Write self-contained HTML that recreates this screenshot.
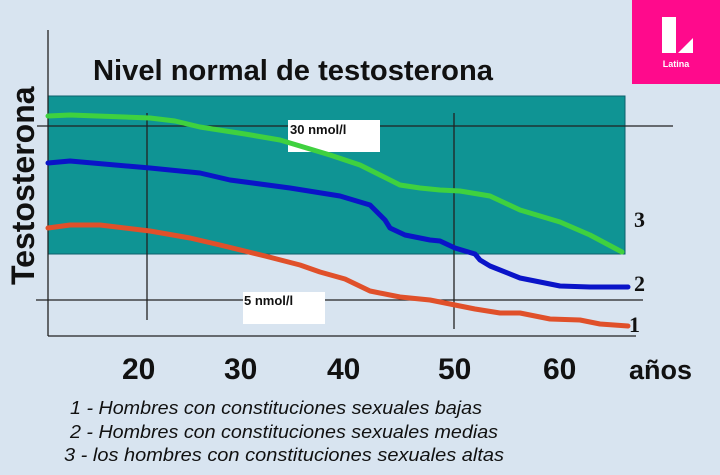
<!DOCTYPE html>
<html><head><meta charset="utf-8"><style>
body{margin:0;width:720px;height:475px;overflow:hidden;background:#d6e3ef;}
svg{display:block}
</style></head><body>
<svg width="720" height="475" xmlns="http://www.w3.org/2000/svg" font-family="Liberation Sans, sans-serif">
<rect width="720" height="475" fill="#d8e4f0"/>
<rect x="48" y="96" width="577" height="158" fill="#0f9494" stroke="#0d5f6b" stroke-width="1"/>
<text x="93" y="80" font-size="29" font-weight="bold" fill="#111" textLength="400" lengthAdjust="spacingAndGlyphs">Nivel normal de testosterona</text>
<text transform="translate(34,285) rotate(-90)" font-size="32" font-weight="bold" fill="#111">Testosterona</text>
<g stroke="#222" stroke-width="1.3" fill="none">
<line x1="48" y1="30" x2="48" y2="336"/>
<line x1="48" y1="336" x2="636" y2="336"/>
<line x1="37" y1="126" x2="673" y2="126"/>
<line x1="36" y1="300" x2="643" y2="300"/>
<line x1="147" y1="113" x2="147" y2="320"/>
<line x1="454" y1="113" x2="454" y2="329"/>
</g>
<rect x="288" y="120" width="92" height="32" fill="#fff"/>
<text x="290" y="134" font-size="13" font-weight="bold" fill="#111">30 nmol/l</text>
<rect x="243" y="292" width="82" height="32" fill="#fff"/>
<text x="244" y="305" font-size="13" font-weight="bold" fill="#111">5 nmol/l</text>
<g fill="none" stroke-width="5" stroke-linejoin="round" stroke-linecap="round">
<polyline stroke="#3fd13f" points="48,116 70,115 150,118 175,121 200,127 245,134 280,140 330,155 360,165 380,175 400,185 420,188 440,190 460,191 490,196 520,210 560,222 590,235 622,252"/>
<polyline stroke="#0a14c8" points="48,163 70,161 150,168 200,173 230,180 290,188 340,196 370,205 385,220 390,228 405,235 430,240 440,241 455,248 475,254 480,260 490,266 520,278 560,286 590,287 628,287"/>
<polyline stroke="#e0502a" points="48,228 70,225 100,225 150,231 190,238 220,245 265,256 300,265 320,272 345,279 370,291 400,297 430,300 455,305 475,309 500,313 520,313 550,319 580,320 600,324 628,326"/>
</g>
<g font-family="Liberation Serif, serif" font-weight="bold" font-size="22" fill="#111">
<text x="634" y="227">3</text><text x="634" y="291">2</text><text x="629" y="332">1</text>
</g>
<g font-size="30" font-weight="bold" fill="#111">
<text x="122" y="379">20</text><text x="224" y="379">30</text><text x="327" y="379">40</text>
<text x="438" y="379">50</text><text x="543" y="379">60</text><text x="629" y="379" font-size="27">años</text>
</g>
<g font-size="18" font-style="italic" fill="#111">
<text x="70" y="414" textLength="412" lengthAdjust="spacingAndGlyphs">1 - Hombres con constituciones sexuales bajas</text>
<text x="70" y="438" textLength="428" lengthAdjust="spacingAndGlyphs">2 - Hombres con constituciones sexuales medias</text>
<text x="64" y="461" textLength="440" lengthAdjust="spacingAndGlyphs">3 - los hombres con constituciones sexuales altas</text>
</g>
<rect x="632" y="0" width="88" height="84" fill="#ff0a8c"/>
<rect x="662" y="17" width="14" height="36" fill="#fff"/>
<polygon points="678,53 693,38 693,53" fill="#fff"/>
<text x="676" y="67" font-size="9" font-weight="bold" fill="#fff" text-anchor="middle">Latina</text>
</svg>
</body></html>
